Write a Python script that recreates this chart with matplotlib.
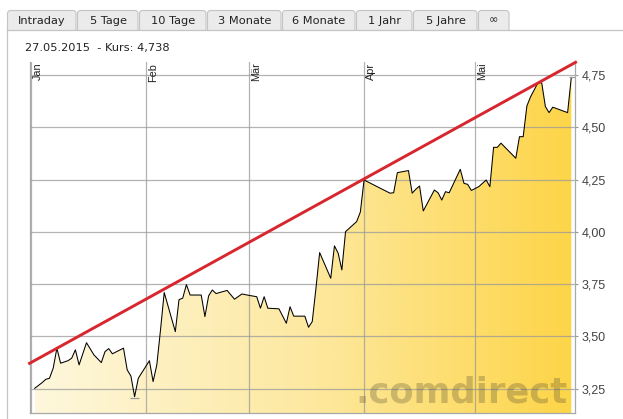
import matplotlib
matplotlib.use("Agg")
import matplotlib.pyplot as plt
import matplotlib.dates as mdates
import matplotlib.transforms as mtransforms
from matplotlib.colors import LinearSegmentedColormap
from matplotlib.patches import PathPatch, FancyBboxPatch, Rectangle
import numpy as np
import pandas as pd

# Kursverlauf
dates = [
    "2015-01-02", "2015-01-04", "2015-01-05", "2015-01-06", "2015-01-07", "2015-01-08",
    "2015-01-09", "2015-01-11", "2015-01-12", "2015-01-13", "2015-01-14", "2015-01-16",
    "2015-01-18", "2015-01-20", "2015-01-21", "2015-01-22", "2015-01-23", "2015-01-26",
    "2015-01-27", "2015-01-28", "2015-01-29", "2015-01-30", "2015-02-01", "2015-02-02",
    "2015-02-03", "2015-02-04", "2015-02-05", "2015-02-06", "2015-02-09", "2015-02-10",
    "2015-02-11", "2015-02-12", "2015-02-13", "2015-02-16", "2015-02-17", "2015-02-18",
    "2015-02-19", "2015-02-20", "2015-02-23", "2015-02-25", "2015-02-27", "2015-03-01",
    "2015-03-03", "2015-03-04", "2015-03-05", "2015-03-06", "2015-03-09", "2015-03-11",
    "2015-03-12", "2015-03-13", "2015-03-16", "2015-03-17", "2015-03-18", "2015-03-19",
    "2015-03-20", "2015-03-23", "2015-03-24", "2015-03-25", "2015-03-26", "2015-03-27",
    "2015-03-30", "2015-03-31", "2015-04-01", "2015-04-08", "2015-04-09", "2015-04-10",
    "2015-04-13", "2015-04-14", "2015-04-15", "2015-04-16", "2015-04-17", "2015-04-20",
    "2015-04-21", "2015-04-22", "2015-04-23", "2015-04-24", "2015-04-27", "2015-04-28",
    "2015-04-29", "2015-04-30", "2015-05-02", "2015-05-04", "2015-05-05", "2015-05-06",
    "2015-05-07", "2015-05-08", "2015-05-12", "2015-05-13", "2015-05-14", "2015-05-15",
    "2015-05-16", "2015-05-18", "2015-05-19", "2015-05-20", "2015-05-21", "2015-05-22",
    "2015-05-26", "2015-05-27",
]
prices = [
    3.252, 3.279, 3.295, 3.300, 3.348, 3.444,
    3.372, 3.384, 3.396, 3.436, 3.364, 3.470,
    3.412, 3.375, 3.427, 3.442, 3.417, 3.444,
    3.340, 3.311, 3.212, 3.300, 3.356, 3.384,
    3.284, 3.364, 3.531, 3.710, 3.523, 3.676,
    3.683, 3.748, 3.698, 3.698, 3.595, 3.694,
    3.722, 3.705, 3.720, 3.678, 3.703, 3.696,
    3.690, 3.635, 3.690, 3.635, 3.632, 3.563,
    3.642, 3.597, 3.597, 3.544, 3.571, 3.730,
    3.901, 3.778, 3.933, 3.898, 3.818, 4.001,
    4.049, 4.095, 4.248, 4.185, 4.187, 4.283,
    4.293, 4.185, 4.204, 4.219, 4.100, 4.200,
    4.187, 4.152, 4.192, 4.187, 4.299, 4.232,
    4.227, 4.198, 4.216, 4.248, 4.216, 4.404,
    4.404, 4.424, 4.352, 4.455, 4.455, 4.602,
    4.646, 4.713, 4.713, 4.599, 4.570, 4.596,
    4.570, 4.738,
]

# Trendlinie (rot)
trend_dates = ["2014-12-31 06:30", "2015-05-28 12:00"]
trend_values = [3.368, 4.814]

month_starts = ["2015-01-01", "2015-02-01", "2015-03-01", "2015-04-01", "2015-05-01"]
month_labels = ["Jan", "Feb", "Mär", "Apr", "Mai"]
y_ticks = [3.25, 3.50, 3.75, 4.00, 4.25, 4.50, 4.75]

tab_labels = ["Intraday", "5 Tage", "10 Tage", "3 Monate", "6 Monate", "1 Jahr", "5 Jahre", "\u221e"]
tab_edges = [7, 77, 139, 207, 282, 356, 413, 478, 510]
header = "27.05.2015  - Kurs: 4,738"

W, H = 623, 419
fig = plt.figure(figsize=(W / 100, H / 100), dpi=100)

# Hintergrund-Ebene in Pixelkoordinaten: Reiter, Rahmen, Kopfzeile
bg = fig.add_axes([0, 0, 1, 1])
bg.set_xlim(0, W)
bg.set_ylim(H, 0)
bg.axis("off")
for lab, x0, x1 in zip(tab_labels, tab_edges[:-1], tab_edges[1:]):
    bg.add_patch(FancyBboxPatch((x0 + 0.5, 10.5), x1 - x0 - 1.5, 26,
                                boxstyle="round,pad=0,rounding_size=3",
                                facecolor="#ebebeb", edgecolor="#c4c4c4", lw=0.8))
    bg.text((x0 + x1) / 2, 20.5, lab, ha="center", va="center", fontsize=8.2,
            color="#222222", family="DejaVu Sans")
bg.add_patch(Rectangle((0, 30.3), W, 10, facecolor="white", edgecolor="none"))
bg.plot([7, W], [30, 30], color="#c4c4c4", lw=0.9)
bg.plot([7, 7], [30, H], color="#c4c4c4", lw=0.9)
bg.text(25, 47.5, header, ha="left", va="center", fontsize=8.2, color="#222222",
        family="DejaVu Sans")

# Chart
x = pd.to_datetime(dates)
xn = mdates.date2num(x)
x_left = mdates.date2num(pd.Timestamp("2015-01-01")) - 0.4
x_right = mdates.date2num(pd.Timestamp("2015-01-01")) + 147.0
y_lo, y_hi = 3.134, 4.812

ax = fig.add_axes([29.5 / W, 6 / H, 545.5 / W, 351 / H])
ax.set_facecolor("white")

poly = ax.fill_between(xn, prices, y_lo, facecolor="none", edgecolor="none")
clip = PathPatch(poly.get_paths()[0], transform=ax.transData, facecolor="none", edgecolor="none")
ax.add_patch(clip)
cmap = LinearSegmentedColormap.from_list("gold", ["#fef7dc", "#fde9a2", "#fdd548"])
grad = np.linspace(0, 1, 256).reshape(1, -1)
img = ax.imshow(grad, extent=[xn[0], xn[-1], y_lo, y_hi], aspect="auto", cmap=cmap,
                origin="lower", zorder=1, interpolation="bilinear")
img.set_clip_path(clip)

# Gitter
for m in month_starts:
    ax.axvline(mdates.date2num(pd.Timestamp(m)), color="#9a9a9a", lw=0.9, alpha=0.75, zorder=2)
for t in y_ticks:
    ax.axhline(t, color="#9a9a9a", lw=0.9, alpha=0.75, zorder=2)

# Wasserzeichen
ax.text(0.597, 0.03, ".comdirect", transform=ax.transAxes, fontsize=25.5, fontweight="bold",
        color="#5a5030", alpha=0.3, ha="left", va="baseline", family="DejaVu Sans", zorder=3)

ax.plot(xn, prices, color="black", lw=0.75, zorder=4)

# Min/Max-Markierung
i_min = int(np.argmin(prices))
i_max = int(np.argmax(prices))
ax.hlines(prices[i_min] - 0.004, xn[i_min] - 1.2, xn[i_min] + 1.2, color="#999999", lw=0.9, zorder=4)
ax.hlines(prices[i_max] + 0.004, xn[i_max] - 0.6, x_right, color="#999999", lw=0.9, zorder=4)

ax.plot(mdates.date2num(pd.to_datetime(trend_dates)), trend_values, color="#d8262e", lw=2.1,
        zorder=5, clip_on=False, solid_capstyle="butt")

ax.set_xlim(x_left, x_right)
ax.set_ylim(y_lo, y_hi)
ax.set_xticks([])
ax.yaxis.tick_right()
ax.set_yticks(y_ticks)
ax.set_yticklabels([f"{t:.2f}".replace(".", ",") for t in y_ticks])
ax.tick_params(axis="y", length=2.5, width=0.8, color="#999999", pad=2.5,
               labelsize=9, labelcolor="#444444")
for lab in ax.get_yticklabels():
    lab.set_family("Liberation Sans")
for s in ["left", "bottom", "right"]:
    ax.spines[s].set_color("#a8a8a8")
    ax.spines[s].set_linewidth(0.9)
ax.spines["top"].set_visible(False)

trans = mtransforms.blended_transform_factory(ax.transData, ax.transAxes)
for m, lab in zip(month_starts, month_labels):
    ax.text(mdates.date2num(pd.Timestamp(m)) + 0.6, 0.998, lab, transform=trans, rotation=90,
            ha="left", va="top", fontsize=7.8, color="#222222", family="Liberation Sans", zorder=6)

fig.savefig("out.png", dpi=100)
